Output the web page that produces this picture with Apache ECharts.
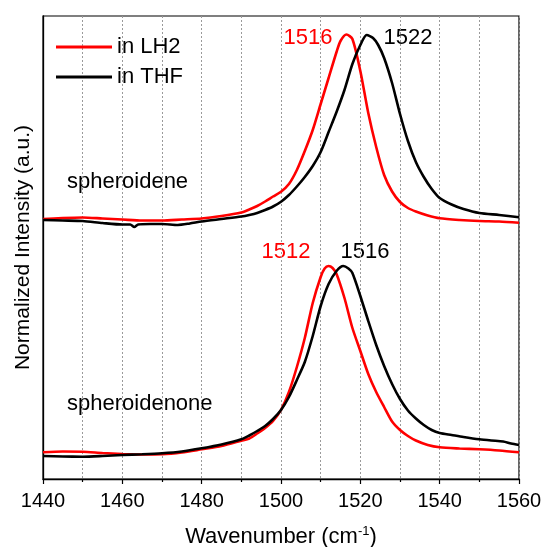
<!DOCTYPE html>
<html>
<head>
<meta charset="utf-8">
<script src="https://cdn.jsdelivr.net/npm/echarts@6/dist/echarts.min.js"></script>
<style>html,body{margin:0;padding:0;background:#fff;}#c{width:545px;height:547px;}</style>
</head>
<body>
<div id="c"></div>
<script>
// Spheroidene in LH2 (red)
const sdLH2_x = [1440,1445,1450,1455,1460,1465,1470,1475,1480,1485,1490,1492,1494,1496,1498,1500,1502,1504,1506,1508,1510,1512,1514,1515,1516.5,1518,1520,1522,1524,1526,1528,1530,1532,1534,1537,1540,1545,1550,1555,1560];
const sdLH2_y = [260,261,261.5,260.5,259.5,258.5,258.5,259.5,260.5,263,266.5,269.5,273,277.5,282.5,287.3,295,309,328,349,375,401,427,438,444.5,440,408,366,332,304,287.5,277,271,267.5,263.5,260.7,259,258,257.5,256.3];
// Spheroidene in THF (black)
const sdTHF_x = [1440,1445,1450,1455,1460,1462,1463,1464,1467,1470,1474,1477,1480,1485,1490,1492,1494,1496,1498,1500,1502,1504,1506,1508,1510,1512,1514,1516,1518,1520,1521.6,1523.2,1524.5,1526,1528,1530,1532,1534,1536,1538,1540,1543,1546,1550,1555,1560];
const sdTHF_y = [259,258.5,258,256,254.5,254.5,252,254.5,255,255,254,255.5,257.5,260,262.5,264,266,269,272.5,277.3,284,292.5,302,313,327,347,367,389,415,434,444,441,434,421,396,365,338,317,302,290,281,274.5,270,266,264,261.7];
// Spheroidenone in LH2 (red)
const snLH2_x = [1440,1445,1450,1455,1460,1465,1470,1475,1480,1485,1490,1492,1494,1496,1498,1500,1502,1504,1506,1508,1510,1511,1512,1513,1514,1516,1518,1520,1522,1524,1526,1528,1530,1532,1534,1537,1540,1545,1550,1555,1560];
const snLH2_y = [26.7,27.5,27.3,26,25,24.5,24.7,26.5,29.7,33,38.3,40.5,45.5,51,58,69,87,112,141,176,202,210.5,213,211,205,181,151,128,105,87,72,57.5,49,43,38.5,34,31.7,30.5,29.7,28.5,26.7];
// Spheroidenone in THF (black)
const snTHF_x = [1440,1445,1450,1455,1460,1465,1470,1475,1480,1485,1490,1492,1494,1496,1498,1500,1502,1504,1506,1508,1510,1512,1514,1515.7,1517,1518,1520,1522,1524,1526,1528,1530,1532,1534,1536,1538,1540,1543,1546,1550,1553,1556,1558,1560];
const snTHF_y = [23,22.5,22.3,23,24,24.7,25.7,27.5,30.7,34.5,39.7,43.5,48,53,60,69,82,99,117,143,173,195,208,213,210.5,206,183,158,134,113,95,80,68.5,60.5,54,49,46,44,42,39.7,38.5,37.5,35.5,34];

const xTicks = [1440,1460,1480,1500,1520,1540,1560];
const legendNames = ['in LH2','in THF'];
const peakLabels = ['1516','1522','1512','1516'];
const sampleNames = ['spheroidene','spheroidenone'];

const pair = (xs, ys) => xs.map((x, i) => [x, ys[i]]);
const FONT = "'Liberation Sans', Arial, sans-serif";

const chart = echarts.init(document.getElementById('c'), null, {renderer: 'canvas'});
const lineSeries = (name, data, color) => ({
  name: name, type: 'line', data: data, symbol: 'none', showSymbol: false, smooth: 0.25,
  lineStyle: {color: color, width: 2.6}, itemStyle: {color: color}, z: color === '#ff0000' ? 3 : 4
});

chart.setOption({
  animation: false,
  backgroundColor: '#fff',
  textStyle: {fontFamily: FONT},
  grid: {left: 43, right: 26, top: 16, bottom: 68, containLabel: false, outerBoundsMode: 'none',
    show: true, borderColor: '#000', borderWidth: 1.2, backgroundColor: 'transparent'},
  legend: {
    orient: 'vertical', left: 51, top: 31, itemWidth: 56, itemHeight: 3, itemGap: 8,
    icon: 'rect',
    data: legendNames,
    textStyle: {fontSize: 22, color: '#000', fontFamily: FONT}
  },
  xAxis: {
    type: 'value', min: xTicks[0], max: xTicks[xTicks.length - 1], interval: 20,
    axisLine: {lineStyle: {color: '#000', width: 1.3}},
    axisTick: {show: true, inside: false, length: 5, lineStyle: {color: '#000', width: 1.2}},
    minorTick: {show: true, splitNumber: 2, length: 3, lineStyle: {color: '#000', width: 1.2}},
    splitLine: {show: true, lineStyle: {color: '#9a9a9a', type: [2, 2], width: 1}},
    minorSplitLine: {show: true, lineStyle: {color: '#9a9a9a', type: [2, 2], width: 1}},
    axisLabel: {fontSize: 20, color: '#000', margin: 12, fontFamily: FONT, formatter: v => String(v)},
    name: 'Wavenumber (cm{sup|-1})', nameLocation: 'middle', nameGap: 46,
    nameTextStyle: {fontSize: 22, color: '#000', fontFamily: FONT, lineHeight: 24,
      rich: {sup: {fontSize: 13, color: '#000', verticalAlign: 'top', lineHeight: 12, fontFamily: FONT}}}
  },
  yAxis: {
    type: 'value', min: 0, max: 463,
    axisLine: {show: true, lineStyle: {color: '#000', width: 1.3}},
    axisTick: {show: false}, axisLabel: {show: false}, splitLine: {show: false},
    name: 'Normalized Intensity (a.u.)', nameLocation: 'middle', nameGap: 9,
    nameTextStyle: {fontSize: 21, color: '#000', fontFamily: FONT}
  },
  series: [
    lineSeries(legendNames[0], pair(sdLH2_x, sdLH2_y), '#ff0000'),
    lineSeries(legendNames[1], pair(sdTHF_x, sdTHF_y), '#000000'),
    lineSeries(legendNames[0], pair(snLH2_x, snLH2_y), '#ff0000'),
    lineSeries(legendNames[1], pair(snTHF_x, snTHF_y), '#000000')
  ],
  graphic: [
    {type: 'text', x: 308, y: 38, style: {text: peakLabels[0], fill: '#ff0000', font: '22px ' + FONT, textAlign: 'center', textVerticalAlign: 'middle'}},
    {type: 'text', x: 408, y: 38, style: {text: peakLabels[1], fill: '#000', font: '22px ' + FONT, textAlign: 'center', textVerticalAlign: 'middle'}},
    {type: 'text', x: 286, y: 252, style: {text: peakLabels[2], fill: '#ff0000', font: '22px ' + FONT, textAlign: 'center', textVerticalAlign: 'middle'}},
    {type: 'text', x: 365, y: 252, style: {text: peakLabels[3], fill: '#000', font: '22px ' + FONT, textAlign: 'center', textVerticalAlign: 'middle'}},
    {type: 'text', x: 67, y: 182, style: {text: sampleNames[0], fill: '#000', font: '22px ' + FONT, textAlign: 'left', textVerticalAlign: 'middle'}},
    {type: 'text', x: 67, y: 404, style: {text: sampleNames[1], fill: '#000', font: '22px ' + FONT, textAlign: 'left', textVerticalAlign: 'middle'}}
  ]
});
</script>
</body>
</html>
